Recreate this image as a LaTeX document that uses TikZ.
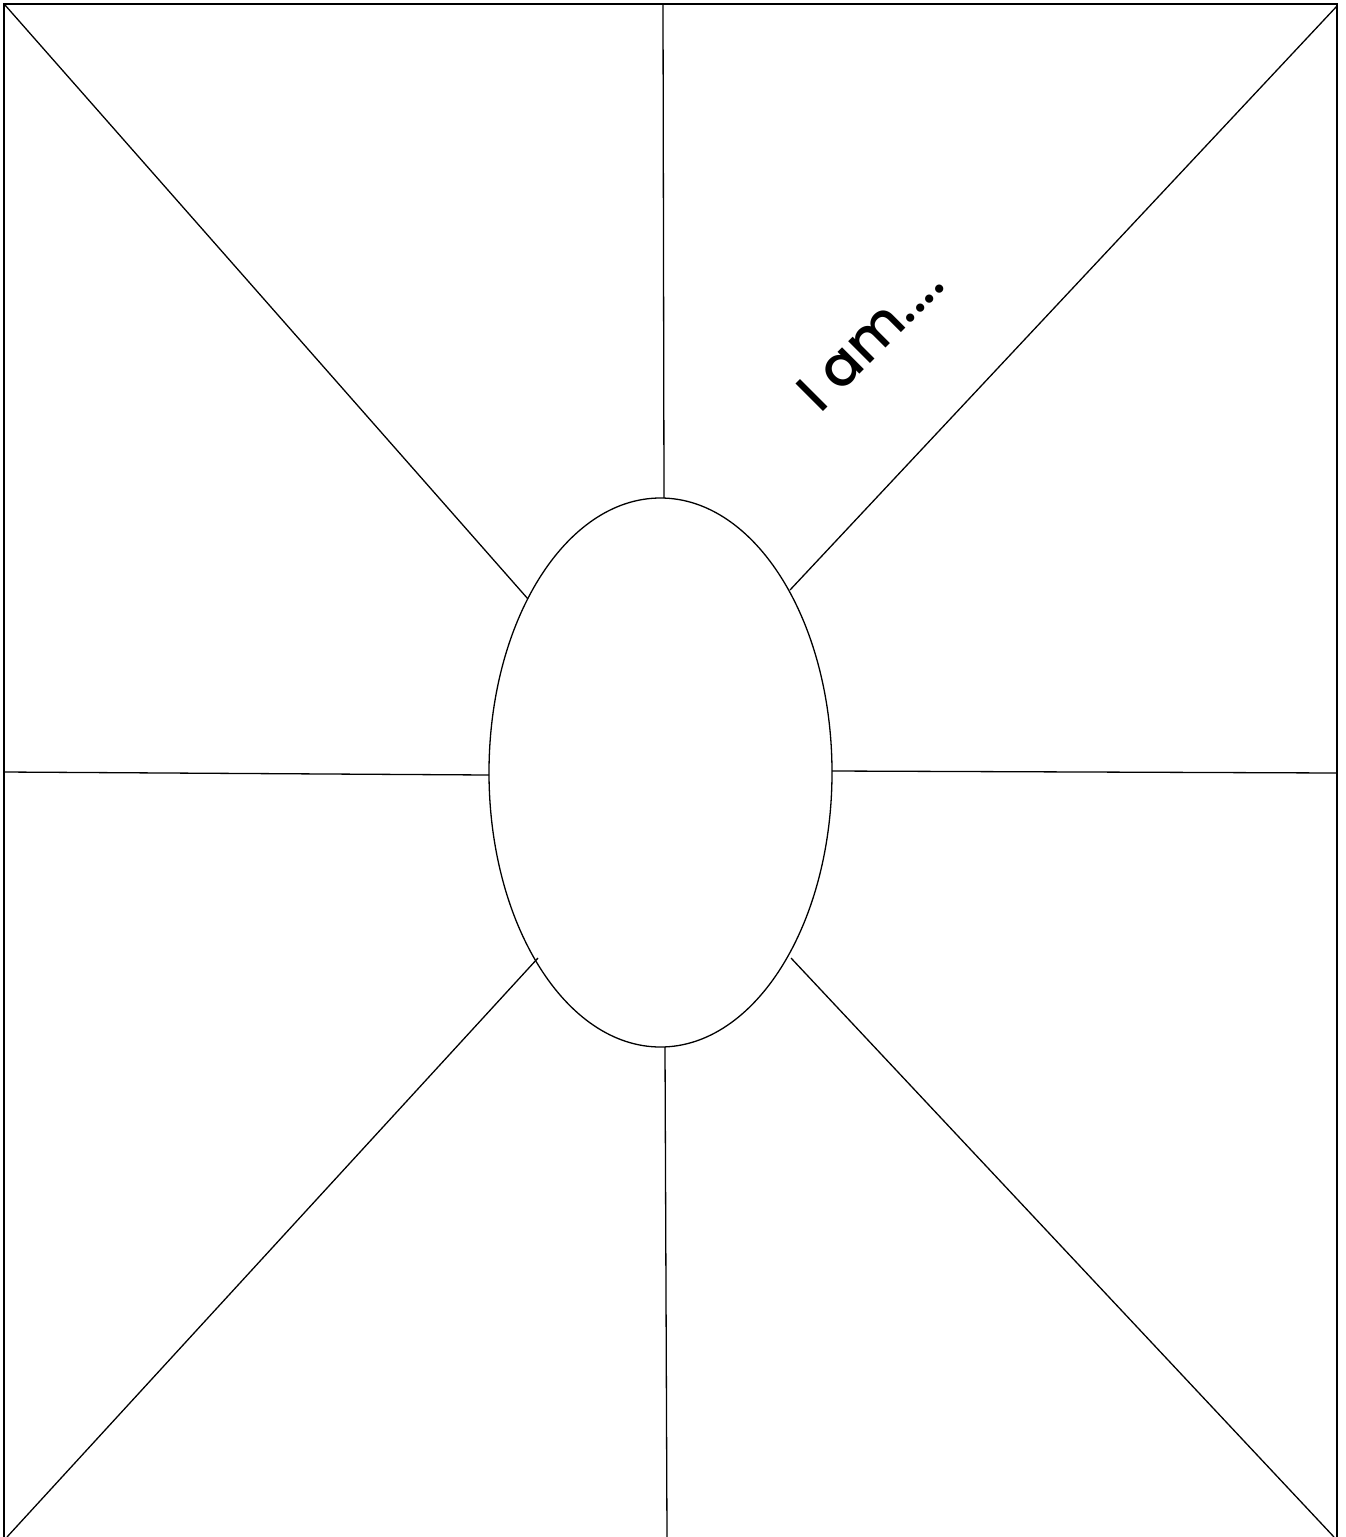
\documentclass[tikz,border=0pt]{standalone}
\usepackage{fontspec}
\newfontfamily\gothic{Poppins}[UprightFont=* Medium]
\usetikzlibrary{shapes.geometric}
\begin{document}
\begin{tikzpicture}[x=1pt,y=-1pt,
  edge/.style={draw=black,line width=1.3pt},
  label/.style={font=\gothic\fontsize{56}{60}\selectfont,inner sep=0pt}]
\useasboundingbox[fill=white] (0,0) rectangle (1345,1537);
% frame
\draw[edge] (4,1540) -- (4,4) -- (1337,4) -- (1337,1540);
% centre ellipse
\node[edge,ellipse,minimum width=343pt,minimum height=549pt,inner sep=0pt] (e) at (660.5,772.5) {};
% corner / edge points
\coordinate (tl) at (5,5);
\coordinate (tr) at (1337,6);
\coordinate (bl) at (7,1537);
\coordinate (br) at (1334,1537);
\coordinate (tm) at (663,4);
\coordinate (bm) at (667,1537);
\coordinate (lm) at (4,772);
\coordinate (rm) at (1337,773);
% ellipse contact points
\coordinate (etl) at (528,599);
\coordinate (etr) at (790,590);
\coordinate (ebl) at (538,958);
\coordinate (ebr) at (791,958);
\coordinate (et) at (664,498);
\coordinate (eb) at (665,1047);
\coordinate (el) at (489,775);
\coordinate (er) at (832,771);
% spokes
\draw[edge] (tl) -- (etl);
\draw[edge] (tr) -- (etr);
\draw[edge] (bl) -- (ebl);
\draw[edge] (br) -- (ebr);
\draw[edge] (tm) -- (et);
\draw[edge] (bm) -- (eb);
\draw[edge] (lm) -- (el);
\draw[edge] (rm) -- (er);
% label
\node[label,rotate=45] (iam) at (870,337) {I am....};
\end{tikzpicture}
\end{document}
